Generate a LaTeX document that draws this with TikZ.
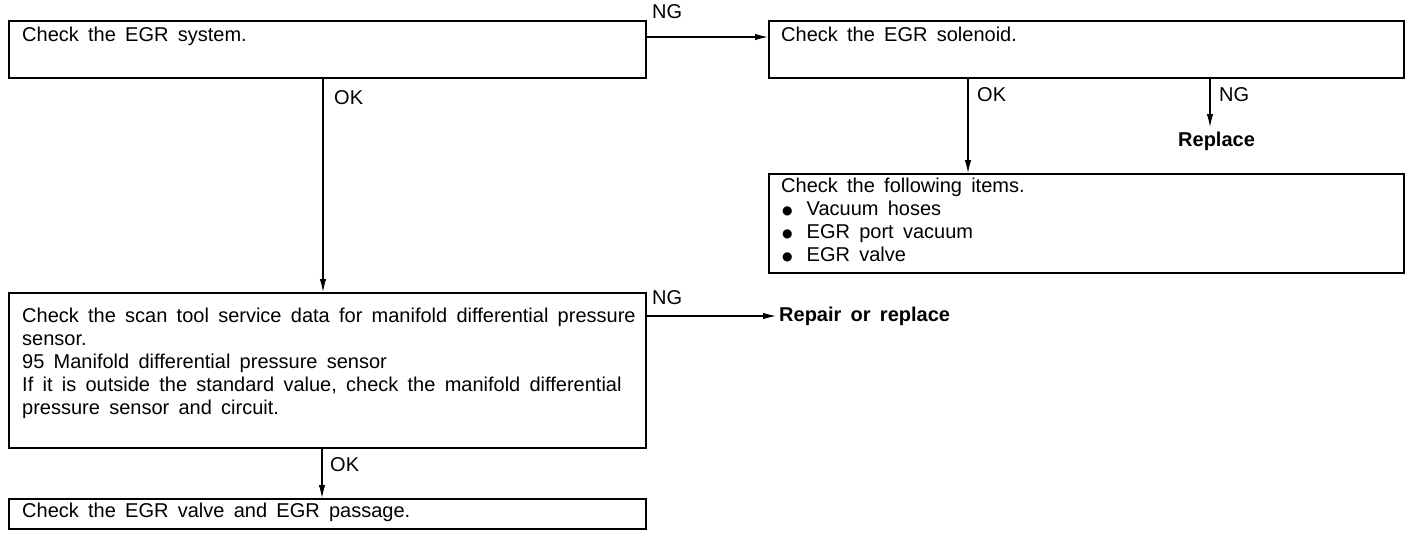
\documentclass[tikz,border=0pt]{standalone}
\usepackage{fontspec}
\setmainfont[WordSpace=1.67]{Liberation Sans}
\newfontfamily\symfont{DejaVu Sans}
\newcommand{\bul}{\hspace*{1pt}\raisebox{1.2pt}{\fontsize{12}{12}\symfont ●}\hspace{14pt}}
\usetikzlibrary{arrows.meta}
\begin{document}
\begin{tikzpicture}[x=1pt,y=-1pt,
  box/.style={draw,line width=1.5pt,anchor=north west,inner sep=0pt},
  txt/.style={anchor=north west,inner sep=0pt,align=left,font=\fontsize{20}{23}\selectfont},
  lbl/.style={inner sep=0pt,font=\fontsize{20}{22}\selectfont},
  blbl/.style={inner sep=0pt,font=\fontsize{20}{22}\selectfont\bfseries},
  arr/.style={line width=1.1pt,-{Latex[length=13pt,width=6.5pt]}}]
\useasboundingbox (0,0) rectangle (1408,536);
% boxes
\node[box,minimum width=637pt,minimum height=57pt] (b1) at (8,20) {};
\node[box,minimum width=635pt,minimum height=57pt] (b2) at (768,20) {};
\node[box,minimum width=635pt,minimum height=99pt] (b5) at (768,173) {};
\node[box,minimum width=637pt,minimum height=155pt] (b3) at (8,292) {};
\node[box,minimum width=637pt,minimum height=30pt] (b4) at (8,498) {};
% texts
\node[txt] (t1) at (22,27) {Check the EGR system.};
\node[txt] (t2) at (781,27) {Check the EGR solenoid.};
\node[txt] (t5) at (781,178) {Check the following items.\\
\bul Vacuum hoses\\
\bul EGR port vacuum\\
\bul EGR valve};
\node[txt] (t3) at (22,308) {Check the scan tool service data for manifold differential pressure\\
sensor.\\
95 Manifold differential pressure sensor\\
If it is outside the standard value, check the manifold differential\\
pressure sensor and circuit.};
\node[txt] (t4) at (22,503) {Check the EGR valve and EGR passage.};
% results
\node[blbl,anchor=west] (rep) at (1178,141) {Replace};
\node[blbl,anchor=west] (rr) at (779,316) {Repair or replace};
\coordinate (repTop) at (1210,127);
% connectors
\draw[arr] ([yshift=-17pt]b1.north east) -- ([yshift=-17pt]b2.north west);
\draw[arr] (323,77) -- (323,292);
\draw[arr] (968,77) -- (968,173);
\draw[arr] (1210,77) -- (repTop);
\draw[arr] ([yshift=-24pt]b3.north east) -- ([xshift=-3pt]rr.west);
\draw[arr] (322,447) -- (322,498);
% labels
\node[lbl,anchor=west] (ng1) at (652,12) {NG};
\node[lbl,anchor=west] (ok1) at (334,98) {OK};
\node[lbl,anchor=west] (ok2) at (977,95) {OK};
\node[lbl,anchor=west] (ng2) at (1219,95) {NG};
\node[lbl,anchor=west] (ng3) at (652,298) {NG};
\node[lbl,anchor=west] (ok3) at (330,465) {OK};
\end{tikzpicture}
\end{document}
